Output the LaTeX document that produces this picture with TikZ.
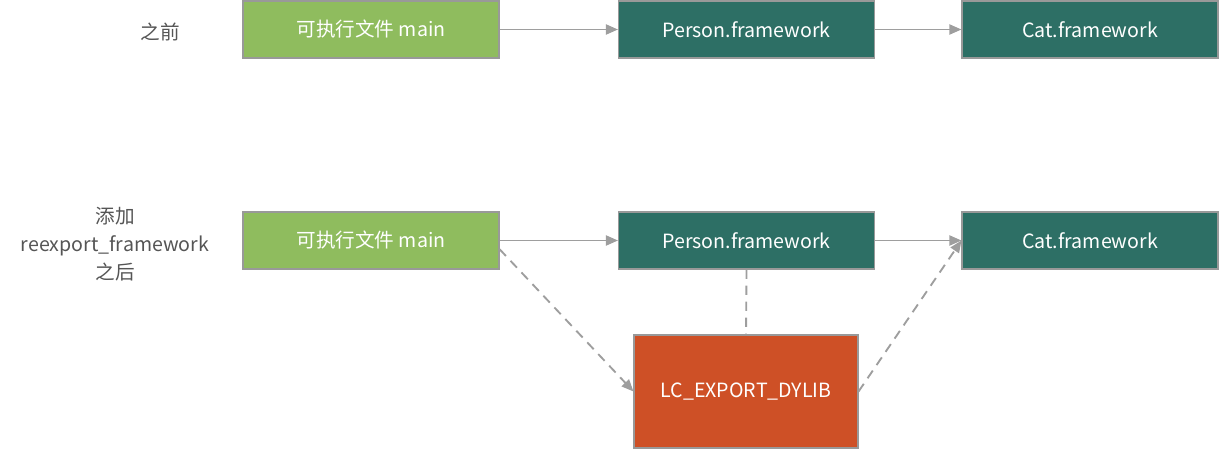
\documentclass[tikz,border=0pt]{standalone}
\usepackage{fontspec}
\setmainfont{Noto Sans CJK SC}
\usetikzlibrary{arrows.meta}
\definecolor{boxgreen}{HTML}{8FBC5E}
\definecolor{boxteal}{HTML}{2D6F65}
\definecolor{boxorange}{HTML}{CE5026}
\definecolor{edgegray}{HTML}{999999}
\definecolor{linegray}{HTML}{9E9E9E}
\definecolor{labelgray}{HTML}{555555}
\tikzset{
  box/.style={draw=edgegray, line width=0.8pt, text=white, font=\fontsize{14.7pt}{16pt}\selectfont,
    minimum width=192pt, minimum height=42.75pt, inner sep=0pt},
  greenbox/.style={box, fill=boxgreen},
  tealbox/.style={box, fill=boxteal},
  orangebox/.style={box, fill=boxorange, minimum width=168pt, minimum height=84.75pt},
  sidelabel/.style={text=labelgray, font=\fontsize{14.7pt}{21pt}\selectfont, align=center},
  conn/.style={draw=linegray, line width=1.4pt, -{Triangle[length=9pt,width=7.5pt]}},
  dconn/.style={conn, dash pattern=on 7pt off 5pt},
  dline/.style={draw=linegray, line width=1.4pt, dash pattern=on 7pt off 5pt}
}
\begin{document}
\begin{tikzpicture}[x=0.75pt,y=-0.75pt]
\useasboundingbox (0,0) rectangle (1219,449);
% top row
\node[sidelabel] (before) at (160,32) {之前};
\node[greenbox] (main1) at (371,29.5) {\raisebox{-1.2pt}{可执行文件 main}};
\node[tealbox] (person1) at (746.5,29.5) {\raisebox{-1.2pt}{Person.framework}};
\node[tealbox] (cat1) at (1090,29.5) {\raisebox{-1.2pt}{Cat.framework}};
% bottom row
\node[sidelabel] (after) at (115,244) {添加\\reexport\_framework\\之后};
\node[greenbox] (main2) at (371,240.5) {\raisebox{-1.2pt}{可执行文件 main}};
\node[tealbox] (person2) at (746.5,240.5) {\raisebox{-1.2pt}{Person.framework}};
\node[tealbox] (cat2) at (1090,240.5) {\raisebox{-1.2pt}{Cat.framework}};
\node[orangebox] (lc) at (746,391.5) {\raisebox{-1.2pt}{LC\_EXPORT\_DYLIB}};
% connectors
\draw[conn] (main1.east) -- (person1.west);
\draw[conn] (person1.east) -- (cat1.west);
\draw[conn] (main2.east) -- (person2.west);
\draw[conn] (person2.east) -- (cat2.west);
\draw[dconn] ([yshift=-6.5pt]main2.east) -- (lc.west);
\draw[dconn] (lc.east) -- (cat2.west);
\draw[dline] (person2.south) -- (lc.north);
\end{tikzpicture}
\end{document}
